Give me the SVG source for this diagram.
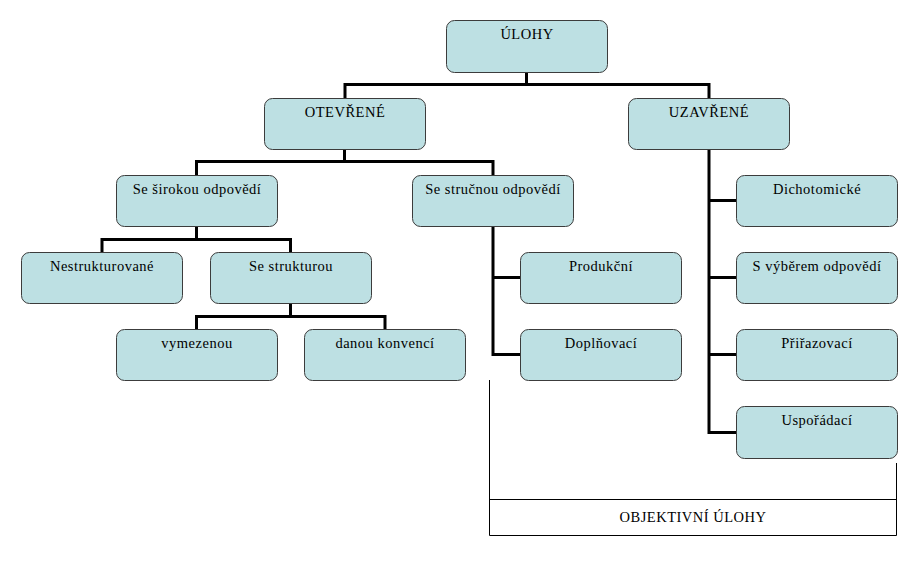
<svg xmlns="http://www.w3.org/2000/svg" width="921" height="562" viewBox="0 0 921 562">
<style>
.n rect{fill:#BDE0E3;stroke:#3c3c3c;stroke-width:1}
.c path{fill:none;stroke:#000;stroke-width:3}
.o path{fill:none;stroke:#000;stroke-width:1}
</style>
<rect width="921" height="562" fill="#fff"/>
<g class="c">
<path d="M526.5,72V84.5M345,98V84.5H709V98"/>
<path d="M344.5,149V161.5M196.5,175V161.5H493V175"/>
<path d="M196.5,226V239.5M102,252V239.5H290.5V252"/>
<path d="M290.5,303V316.5M196.5,329V316.5H385V329"/>
<path d="M493,226V354.5H520M493,277.5H520"/>
<path d="M709,149V432.5H736M709,200.5H736M709,277.5H736M709,354.5H736"/>
</g>
<g class="o">
<path d="M489.5,380V535.5H896.5V463M489.5,499.5H896.5"/>
</g>
<g font-family="Liberation Serif, Times New Roman, serif" font-size="14.5" text-anchor="middle" letter-spacing="0.5" fill="#000">
<text x="693" y="522">OBJEKTIVNÍ ÚLOHY</text>
<g id="ulohy" class="n"><rect x="446.5" y="20.5" width="161" height="52" rx="8"/><text x="527" y="38.5">ÚLOHY</text></g>
<g id="otevrene" class="n"><rect x="264.5" y="98.5" width="161" height="51" rx="8"/><text x="345" y="116.5">OTEVŘENÉ</text></g>
<g id="uzavrene" class="n"><rect x="628.5" y="98.5" width="161" height="51" rx="8"/><text x="709" y="116.5">UZAVŘENÉ</text></g>
<g id="siroka" class="n"><rect x="116.5" y="175.5" width="161" height="51" rx="8"/><text x="197" y="193.5">Se širokou odpovědí</text></g>
<g id="strucna" class="n"><rect x="412.5" y="175.5" width="161" height="51" rx="8"/><text x="493" y="193.5">Se stručnou odpovědí</text></g>
<g id="nestrukt" class="n"><rect x="21.5" y="252.5" width="161" height="51" rx="8"/><text x="102" y="270.5">Nestrukturované</text></g>
<g id="strukt" class="n"><rect x="210.5" y="252.5" width="161" height="51" rx="8"/><text x="291" y="270.5">Se strukturou</text></g>
<g id="vymezenou" class="n"><rect x="116.5" y="329.5" width="161" height="51" rx="8"/><text x="197" y="347.5">vymezenou</text></g>
<g id="konvenci" class="n"><rect x="304.5" y="329.5" width="161" height="51" rx="8"/><text x="385" y="347.5">danou konvencí</text></g>
<g id="produkcni" class="n"><rect x="520.5" y="252.5" width="161" height="51" rx="8"/><text x="601" y="270.5">Produkční</text></g>
<g id="doplnovaci" class="n"><rect x="520.5" y="329.5" width="161" height="51" rx="8"/><text x="601" y="347.5">Doplňovací</text></g>
<g id="dichot" class="n"><rect x="736.5" y="175.5" width="161" height="51" rx="8"/><text x="817" y="193.5">Dichotomické</text></g>
<g id="vyber" class="n"><rect x="736.5" y="252.5" width="161" height="51" rx="8"/><text x="817" y="270.5">S výběrem odpovědí</text></g>
<g id="prirazovaci" class="n"><rect x="736.5" y="329.5" width="161" height="51" rx="8"/><text x="817" y="347.5">Přiřazovací</text></g>
<g id="usporadaci" class="n"><rect x="736.5" y="406.5" width="161" height="52" rx="8"/><text x="817" y="424.5">Uspořádací</text></g>
</g>
</svg>
